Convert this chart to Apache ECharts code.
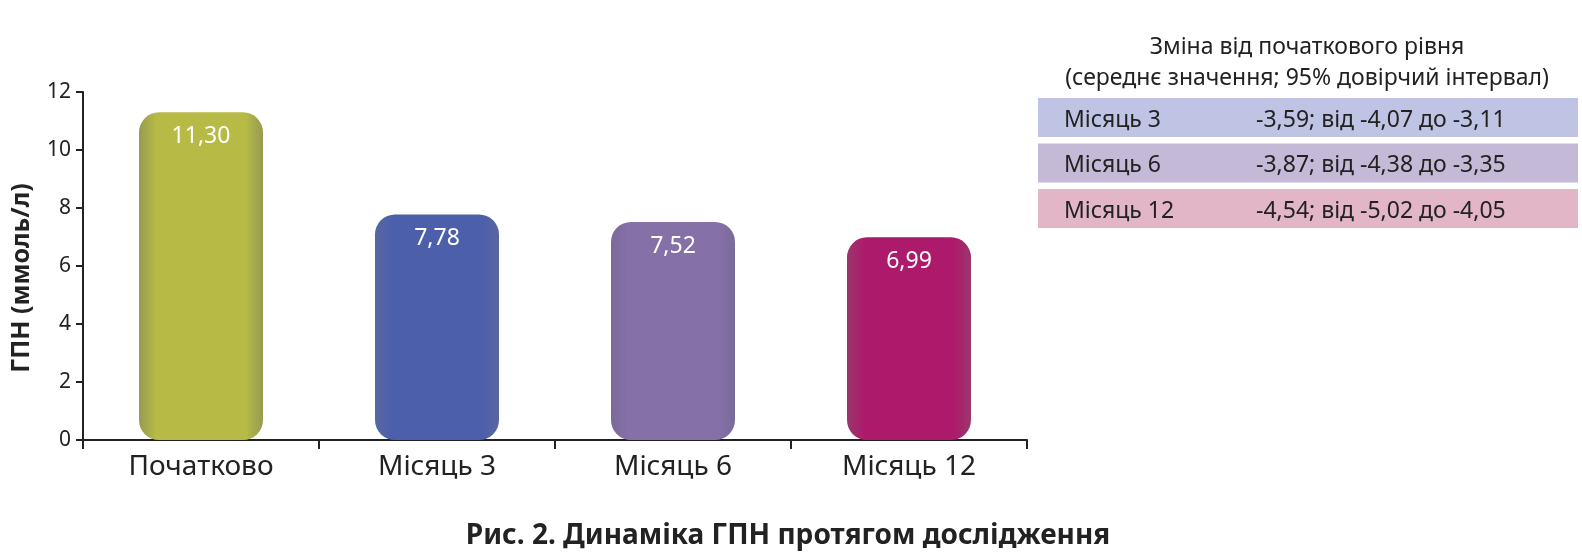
<!DOCTYPE html>
<html>
<head>
<meta charset="utf-8">
<script src="https://cdn.jsdelivr.net/npm/echarts@6/dist/echarts.min.js"></script>
<style>
  html, body { margin: 0; padding: 0; background: #fff; }
  #chart { width: 1582px; height: 557px; }
</style>
</head>
<body>
<div id="chart"></div>
<script>
// chart data
const categories = ['Початково', 'Місяць 3', 'Місяць 6', 'Місяць 12'];
const values = [11.30, 7.78, 7.52, 6.99];
const barMain = ['#b7bb45', '#4b5fab', '#8570a8', '#ae1a6b'];
const barEdge = ['#979a52', '#5966a0', '#7a6a9a', '#98376e'];

// table on the right
const rowLabels = ['Місяць 3', 'Місяць 6', 'Місяць 12'];
const rowChange = ['-3,59', '-3,87', '-4,54'];
const rowLow = ['-4,07', '-4,38', '-5,02'];
const rowHigh = ['-3,11', '-3,35', '-4,05'];
const rowColors = ['#c0c4e4', '#c4bad7', '#e2b6c6'];

const font = '"Noto Sans", "Open Sans", sans-serif';
const chart = echarts.init(document.getElementById('chart'));

const fmt = v => v.toFixed(2).replace('.', ',');

const tableGraphics = [
  {
    type: 'text', x: 1307, y: 47,
    style: { text: 'Зміна від початкового рівня', font: '23px ' + font, fill: '#222', align: 'center', verticalAlign: 'middle' }
  },
  {
    type: 'text', x: 1307, y: 78,
    style: { text: '(середнє значення; 95% довірчий інтервал)', font: '23px ' + font, fill: '#222', align: 'center', verticalAlign: 'middle' }
  }
];
rowLabels.forEach((lab, i) => {
  const y = 98 + i * 45.5;
  tableGraphics.push({
    type: 'rect', shape: { x: 1038, y: y, width: 540, height: 39 },
    style: { fill: rowColors[i] }
  });
  tableGraphics.push({
    type: 'text', x: 1064, y: y + 22,
    style: { text: lab, font: '23px ' + font, fill: '#222', verticalAlign: 'middle' }
  });
  tableGraphics.push({
    type: 'text', x: 1256, y: y + 22,
    style: { text: rowChange[i] + '; від ' + rowLow[i] + ' до ' + rowHigh[i], font: '23px ' + font, fill: '#222', verticalAlign: 'middle' }
  });
});

chart.setOption({
  animation: false,
  textStyle: { fontFamily: font },
  title: {
    text: 'Рис. 2. Динаміка ГПН протягом дослідження',
    left: 783, top: 517, textAlign: 'center',
    textStyle: { fontSize: 28, fontWeight: 'bold', color: '#222', fontFamily: font }
  },
  grid: { left: 83, right: 555, top: 92, bottom: 117 },
  xAxis: {
    type: 'category',
    data: categories,
    axisLine: { lineStyle: { color: '#222', width: 2 } },
    axisTick: { show: true, length: 9, lineStyle: { color: '#222', width: 2 } },
    axisLabel: { fontSize: 28, color: '#222', margin: 13 }
  },
  yAxis: {
    type: 'value',
    min: 0, max: 12, interval: 2,
    name: 'ГПН (ммоль/л)',
    nameLocation: 'middle',
    nameGap: 49,
    nameTextStyle: { fontSize: 25, fontWeight: 'bold', color: '#222', padding: [0, 24, 0, 0] },
    axisLine: { show: true, lineStyle: { color: '#222', width: 2 } },
    axisTick: { show: true, length: 7, lineStyle: { color: '#222', width: 2 } },
    axisLabel: { fontSize: 21, color: '#222', margin: 12 },
    splitLine: { show: false }
  },
  series: [{
    type: 'bar',
    barWidth: 124,
    data: values.map((v, i) => ({
      value: v,
      itemStyle: {
        borderRadius: 20,
        color: new echarts.graphic.LinearGradient(0, 0, 1, 0, [
          { offset: 0, color: barEdge[i] },
          { offset: 0.14, color: barMain[i] },
          { offset: 0.86, color: barMain[i] },
          { offset: 1, color: barEdge[i] }
        ])
      }
    })),
    label: {
      show: true,
      position: 'insideTop',
      distance: 13,
      color: '#fff',
      fontSize: 23,
      formatter: p => fmt(p.value)
    }
  }],
  graphic: tableGraphics
});
</script>
</body>
</html>
